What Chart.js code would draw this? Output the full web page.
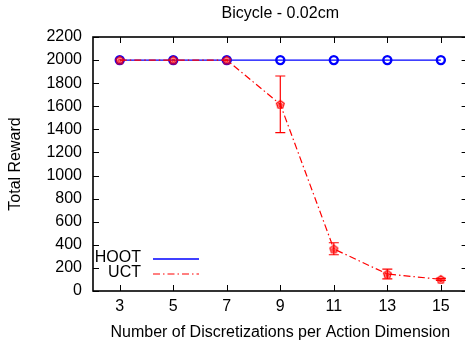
<!DOCTYPE html>
<html>
<head>
<meta charset="utf-8">
<script src="https://cdn.jsdelivr.net/npm/chart.js@4.4.1/dist/chart.umd.min.js"></script>
<style>
html, body { margin: 0; padding: 0; overflow: hidden; background: #fff; }
canvas { display: block; }
</style>
</head>
<body>
<canvas id="myChart" width="474" height="345"></canvas>
<script>
// values
var discretizations = [3, 5, 7, 9, 11, 13, 15];
var hootReward = [2000, 2000, 2000, 2000, 2000, 2000, 2000];
var uctReward = [2000, 2000, 2000, 1617, 364, 147, 101];
var uctLow = [2000, 2000, 2000, 1371, 314, 105, 92];
var uctHigh = [2000, 2000, 2000, 1862, 418, 190, 110];
var yTicks = [0, 200, 400, 600, 800, 1000, 1200, 1400, 1600, 1800, 2000, 2200];

var FONT = "'Liberation Sans', Arial, sans-serif";

// gnuplot-like pentagon marker
function pentagon(color) {
    var c = document.createElement('canvas');
    c.width = 11; c.height = 11;
    var g = c.getContext('2d');
    g.strokeStyle = color;
    g.lineWidth = 1.3;
    g.beginPath();
    for (var i = 0; i < 5; i++) {
        var a = -Math.PI / 2 + i * 2 * Math.PI / 5;
        var px = 5.5 + 4 * Math.cos(a), py = 5.8 + 4 * Math.sin(a);
        if (i == 0) g.moveTo(px, py); else g.lineTo(px, py);
    }
    g.closePath();
    g.stroke();
    g.beginPath();
    g.arc(5.5, 6, 1.5, 0, 2 * Math.PI);
    g.stroke();
    return c;
}

function toXY(xs, ys) {
    var out = [];
    for (var i = 0; i < xs.length; i++) out.push({x: xs[i], y: ys[i]});
    return out;
}

var errorBars = {
    id: 'errorBars',
    afterDatasetsDraw: function(chart) {
        var ctx = chart.ctx, xs = chart.scales.x, ys = chart.scales.y;
        ctx.save();
        ctx.strokeStyle = '#ff0000';
        ctx.lineWidth = 1.2;
        for (var i = 0; i < discretizations.length; i++) {
            if (uctHigh[i] == uctLow[i]) continue;
            var px = xs.getPixelForValue(discretizations[i]);
            var y1 = ys.getPixelForValue(uctLow[i]);
            var y2 = ys.getPixelForValue(uctHigh[i]);
            ctx.beginPath();
            ctx.moveTo(px, y1); ctx.lineTo(px, y2);
            ctx.moveTo(px - 5, y1); ctx.lineTo(px + 5, y1);
            ctx.moveTo(px - 5, y2); ctx.lineTo(px + 5, y2);
            ctx.stroke();
        }
        ctx.restore();
    }
};

var frame = {
    id: 'frame',
    afterDraw: function(chart) {
        var ctx = chart.ctx, a = chart.chartArea;
        var xs = chart.scales.x, ys = chart.scales.y;
        ctx.save();
        ctx.strokeStyle = '#000';
        ctx.lineWidth = 1.6;
        ctx.strokeRect(a.left, a.top, a.right - a.left, a.bottom - a.top);
        ctx.lineWidth = 1;
        ctx.beginPath();
        xs.ticks.forEach(function(t) {
            var px = Math.round(xs.getPixelForValue(t.value)) + 0.5;
            ctx.moveTo(px, a.bottom); ctx.lineTo(px, a.bottom - 6);
            ctx.moveTo(px, a.top); ctx.lineTo(px, a.top + 6);
        });
        ys.ticks.forEach(function(t) {
            var py = Math.round(ys.getPixelForValue(t.value)) + 0.5;
            ctx.moveTo(a.left, py); ctx.lineTo(a.left + 6, py);
            ctx.moveTo(a.right, py); ctx.lineTo(a.right - 6, py);
        });
        ctx.stroke();

        // key inside the plot, lower left
        ctx.font = '16px ' + FONT;
        ctx.textAlign = 'right';
        ctx.textBaseline = 'middle';
        chart.data.datasets.slice().sort(function(p, q) { return p.keyRank - q.keyRank; })
            .forEach(function(ds, k) {
                var ty = 258 + k * 15;
                ctx.fillStyle = '#000';
                ctx.fillText(ds.label, 141, ty);
                ctx.strokeStyle = ds.borderColor;
                ctx.lineWidth = ds.borderWidth;
                ctx.setLineDash(ds.borderDash || []);
                ctx.beginPath();
                ctx.moveTo(153, ty + 1); ctx.lineTo(199, ty + 1);
                ctx.stroke();
            });
        ctx.restore();
    }
};

new Chart(document.getElementById('myChart'), {
    type: 'line',
    data: {
        datasets: [{
            label: 'HOOT',
            keyRank: 0,
            order: 1,
            data: toXY(discretizations, hootReward),
            borderColor: '#0000ff',
            borderWidth: 1.3,
            pointStyle: 'circle',
            pointRadius: 4,
            pointBorderWidth: 2.4,
            pointBackgroundColor: 'rgba(0,0,0,0)',
            pointBorderColor: '#0000ff'
        }, {
            label: 'UCT',
            keyRank: 1,
            order: 0,
            data: toXY(discretizations, uctReward),
            borderColor: '#ff0000',
            borderWidth: 1.2,
            borderDash: [7, 3, 1.5, 3],
            pointStyle: pentagon('#ff0000'),
            pointRadius: 5
        }]
    },
    options: {
        responsive: false,
        animation: false,
        events: [],
        layout: { padding: { left: 0, right: 0, top: 0, bottom: 0 } },
        plugins: {
            legend: { display: false },
            tooltip: { enabled: false },
            title: {
                display: true,
                fullSize: false,
                text: 'Bicycle - 0.02cm',
                color: '#000',
                font: { family: FONT, size: 16, weight: 'normal' },
                padding: { top: 4, bottom: 13.8 }
            }
        },
        scales: {
            x: {
                type: 'linear',
                min: 2,
                max: 16,
                afterBuildTicks: function(s) {
                    s.ticks = discretizations.map(function(v) { return {value: v}; });
                },
                afterFit: function(s) {
                    s.height = 54;
                    s.paddingLeft = 0;
                    s.paddingRight = 0;
                },
                grid: { display: false, drawTicks: false },
                border: { display: false },
                ticks: { color: '#000', padding: 6, font: { family: FONT, size: 16 } },
                title: {
                    display: true,
                    text: 'Number of Discretizations per Action Dimension',
                    color: '#000',
                    font: { family: FONT, size: 16 },
                    padding: { top: 0, bottom: 3 }
                }
            },
            y: {
                min: 0,
                max: 2200,
                afterBuildTicks: function(s) {
                    s.ticks = yTicks.map(function(v) { return {value: v}; });
                },
                afterFit: function(s) {
                    s.width = 93;
                    s.paddingTop = 0;
                    s.paddingBottom = 0;
                },
                grid: { display: false, drawTicks: false },
                border: { display: false },
                ticks: {
                    color: '#000',
                    padding: 11,
                    font: { family: FONT, size: 16 },
                    callback: function(v) { return String(v); }
                },
                title: {
                    display: true,
                    text: 'Total Reward',
                    color: '#000',
                    font: { family: FONT, size: 16 },
                    padding: { top: 6, bottom: 0 }
                }
            }
        }
    },
    plugins: [errorBars, frame]
});
</script>
</body>
</html>
